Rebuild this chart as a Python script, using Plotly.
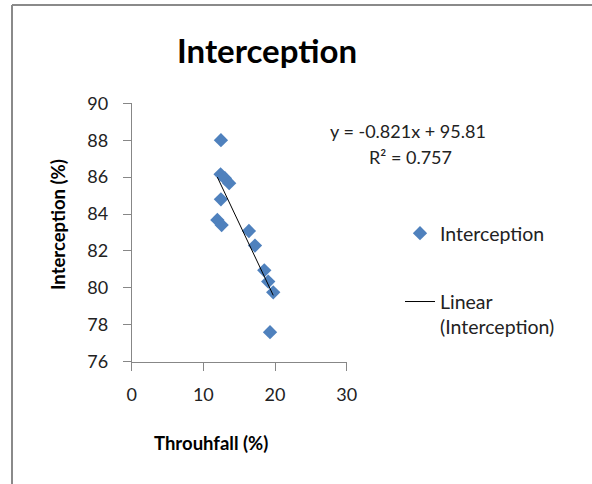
import plotly.graph_objects as go

# Data
throughfall = [12.45, 12.4, 13.0, 13.6, 12.45, 11.95, 12.55, 16.36, 17.2, 18.5, 19.05, 19.75, 19.3]
interception = [88.0, 86.15, 85.94, 85.67, 84.8, 83.68, 83.4, 83.08, 82.29, 80.95, 80.34, 79.76, 77.6]
slope = -0.821
intercept = 95.81
r2 = 0.757
x_ticks = [0, 10, 20, 30]
y_ticks = [76, 78, 80, 82, 84, 86, 88, 90]

W, H = 592, 484
px = lambda v: v / W
py = lambda v: 1 - v / H

x_fit = [min(throughfall), max(throughfall)]
y_fit = [slope * v + intercept for v in x_fit]

FONT = "Lato, 'Open Sans', sans-serif"
TXT = "#222222"
AX = "#878787"


def note(text, x, y, size, color=TXT, angle=0):
    return dict(text=text, x=px(x), y=py(y), xref="paper", yref="paper",
                xanchor="center", yanchor="middle", showarrow=False,
                textangle=angle, font=dict(size=size, color=color))


fig = go.Figure()
fig.add_trace(go.Scatter(
    x=throughfall, y=interception, mode="markers", name="Interception",
    marker=dict(symbol="diamond", size=11, color="#4F81BD"),
    legendgroup="a",
))
fig.add_trace(go.Scatter(
    x=x_fit, y=y_fit, mode="lines", name="Linear<br>(Interception)",
    line=dict(color="black", width=1), legendgroup="b",
))

fig.update_layout(
    width=W, height=H,
    margin=dict(l=0, r=0, t=0, b=0),
    paper_bgcolor="white", plot_bgcolor="white",
    font=dict(family=FONT, size=18, color=TXT),
    showlegend=True,
    legend=dict(
        x=px(400), y=py(214), xanchor="left", yanchor="top",
        font=dict(size=19.5, color=TXT), tracegroupgap=40,
        traceorder="grouped", valign="top", itemwidth=30,
        bgcolor="rgba(0,0,0,0)",
    ),
    xaxis=dict(
        domain=[px(131.7), px(346.7)], range=[0, 30],
        tickvals=x_ticks, showgrid=False, zeroline=False,
        showline=True, linecolor=AX, linewidth=1,
        ticks="outside", ticklen=8, tickcolor=AX,
        tickfont=dict(size=18, color=TXT), ticklabelstandoff=9,
        automargin=False,
    ),
    yaxis=dict(
        domain=[py(361.7), py(103.3)], range=[76, 90],
        tickvals=y_ticks, showgrid=False, zeroline=False,
        showline=True, linecolor=AX, linewidth=1,
        ticks="outside", ticklen=8, tickcolor=AX,
        tickfont=dict(size=18, color=TXT), ticklabelstandoff=11,
        automargin=False,
    ),
    annotations=[
        note("<b>Interception</b>", 267, 50, 33, "black"),
        note("<b>Throuhfall (%)</b>", 211, 443, 18.5, "black"),
        note("<b>Interception (%)</b>", 58, 225, 18.5, "black", -90),
        note(f"y = {slope}x + {intercept}", 408, 131, 18),
        note(f"R² = {r2}", 410, 157, 18),
    ],
    shapes=[
        dict(type="line", xref="paper", yref="paper", x0=px(12), x1=px(12), y0=0, y1=py(5),
             line=dict(color="#8a8a8a", width=2)),
        dict(type="line", xref="paper", yref="paper", x0=px(12), x1=1, y0=py(5), y1=py(5),
             line=dict(color="#8a8a8a", width=2)),
    ],
)

fig.write_html("out.html")
